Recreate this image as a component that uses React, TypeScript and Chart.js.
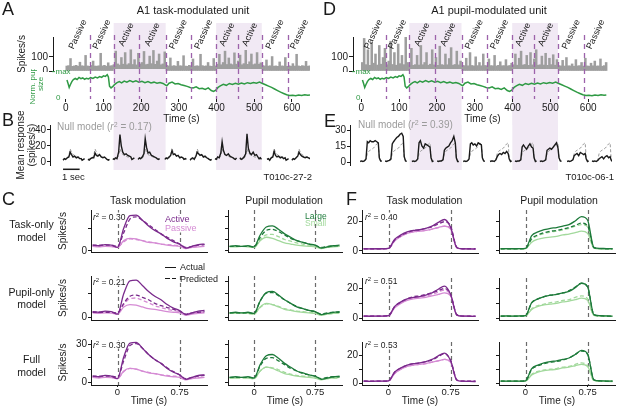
import React, { useEffect, useRef } from "react";
import { Chart, registerables } from "chart.js";
Chart.register(...registerables);

const FONT = "'Liberation Sans', Arial, Helvetica, sans-serif";
Chart.defaults.font.family = FONT;
Chart.defaults.color = "#1a1a1a";

// ---------------- colours ----------------
const INK = "#1a1a1a";
const SHADE = "#f1e9f4";
const EPOCH_DASH = "#9d62ab";
const SPIKE_GRAY = "#9e9e9e";
const PUPIL_GREEN = "#2f9a44";
const PURPLE = "#7a2a8c";
const PINK = "#d58bd4";
const GREEN = "#1d7a3a";
const LGREEN = "#a2d99c";
const NULL_GRAY = "#9b9b9b";

// ---------------- panel A / D : behaviour epochs ----------------
const EPOCH_BOUNDS = [0, 64, 127, 195, 265, 332, 399, 457, 520, 590, 650];
const EPOCH_LABELS = ["Passive", "Passive", "Active", "Active", "Passive", "Passive", "Active", "Active", "Passive", "Passive"];
const TIME_TICKS = [0, 100, 200, 300, 400, 500, 600];
const SPK_TICKS = [0, 100];
const SPK_BIN_S = 5;
const SPK_T0 = 2.5;

// spike rate (spikes/s), 5 s bins
const A_SPK = [
  35, 38, 88, 33, 36, 40, 34, 62, 37, 35, 110, 36, 33, 39, 70, 35, 34, 37, 125, 36, 40, 34, 58, 36, 38,
  45, 140, 50, 42, 95, 48, 130, 44, 52, 150, 46, 80, 43, 125, 50, 60, 138, 45, 48, 105, 52, 145, 47, 70, 120, 44, 50, 135,
  40, 36, 92, 35, 38, 34, 68, 37, 36, 108, 35, 33, 40, 36, 85, 34, 37, 35, 118, 38, 34, 36, 60, 35, 33, 88, 36,
  48, 118, 44, 60, 140, 46, 92, 50, 45, 128, 48, 70, 112, 44, 52, 146, 47, 65, 120, 45, 50, 130, 48, 58,
  38, 36, 78, 35, 37, 102, 34, 36, 33, 64, 36, 35, 95, 33, 37, 34, 52, 35, 118, 36, 33, 38, 35, 68, 34, 36,
];
const D_SPK = [
  60, 230, 45, 150, 40, 200, 55, 120, 42, 180, 48, 95, 160, 44, 70, 210, 46, 130, 41, 190, 52, 110, 45, 240, 60,
  42, 160, 40, 45, 110, 42, 180, 44, 60, 130, 41, 48, 150, 43, 95, 40, 175, 45, 42, 120, 44, 88, 165, 41, 46, 140, 43, 70,
  40, 38, 90, 37, 130, 39, 36, 100, 38, 60, 37, 120, 39, 36, 85, 38, 37, 110, 36, 40, 65, 37, 38, 80, 36, 39, 55,
  44, 120, 41, 90, 140, 42, 46, 110, 40, 130, 43, 85, 150, 41, 44, 105, 42, 125, 40, 90, 45, 115, 41, 80,
  38, 36, 75, 35, 95, 37, 36, 50, 34, 80, 36, 38, 60, 35, 90, 36, 34, 55, 37, 70, 35, 36, 85, 34, 38, 60,
];

// normalised pupil size
const PUPIL_T = [
  3, 6, 9, 12, 16, 20, 25, 30, 35, 40, 45, 50, 55, 60, 66, 72, 78, 84, 90, 95,
  100, 105, 110, 113, 116, 120, 125, 130, 136, 142, 148, 155, 162, 170, 178, 186, 194, 202, 210, 218,
  226, 234, 242, 250, 258, 264, 268, 274, 282, 290, 298, 306, 314, 322, 330, 338, 346, 354, 362, 370,
  378, 386, 392, 398, 404, 410, 418, 426, 434, 442, 450, 458, 466, 474, 482, 490, 498, 506, 514, 522,
  530, 538, 546, 554, 562, 570, 578, 586, 594, 602, 610, 618, 626, 634, 642, 648,
];
const PUPIL_V = [
  0.68, 0.55, 0.4, 0.5, 0.62, 0.7, 0.74, 0.7, 0.78, 0.73, 0.76, 0.71, 0.75, 0.72, 0.77, 0.74, 0.79, 0.76, 0.81, 0.78,
  0.84, 0.82, 0.88, 0.8, 0.45, 0.38, 0.44, 0.52, 0.58, 0.62, 0.57, 0.64, 0.6, 0.66, 0.61, 0.65, 0.6, 0.63, 0.58, 0.62,
  0.57, 0.6, 0.56, 0.59, 0.55, 0.5, 0.46, 0.56, 0.6, 0.53, 0.55, 0.5, 0.47, 0.44, 0.4, 0.38, 0.42, 0.35, 0.37, 0.32,
  0.38, 0.28, 0.25, 0.3, 0.4, 0.46, 0.52, 0.48, 0.55, 0.51, 0.56, 0.52, 0.57, 0.53, 0.58, 0.55, 0.59, 0.56, 0.6, 0.55,
  0.5, 0.45, 0.4, 0.34, 0.28, 0.22, 0.17, 0.12, 0.09, 0.1, 0.08, 0.11, 0.09, 0.12, 0.1, 0.11,
];

// ---------------- panels B / E : per-epoch mean responses ----------------
const T_MINI = [-0.35, -0.27, -0.19, -0.1, 0, 0.08, 0.16, 0.25, 0.35, 0.45, 0.55, 0.65, 0.74, 0.8, 0.88, 0.95];
const MINI_SEC = 44; // axis seconds used per 1 s of trace time
const B_SLOTS = [-7, 59, 125, 192, 263, 330, 396, 462, 534, 600];
const E_SLOTS = [-4, 62, 133, 200, 269, 340, 406, 472, 544, 610];
const B_TICKS = [0, 20, 40];
const E_TICKS = [0, 15, 30];

const B_NULL = [3, 4, 3, 4, 8, 16, 12, 9, 8, 7, 6, 6, 5, 3, 3, 4];
const B_TR1 = [2, 4, 3, 5, 6, 12, 9, 6, 7, 5, 6, 4, 4, 2, 3, 4];
const B_TR2 = [3, 2, 4, 5, 5, 11, 8, 7, 9, 6, 5, 6, 4, 3, 2, 3];
const B_TR3 = [4, 3, 5, 4, 12, 34, 20, 12, 9, 10, 8, 7, 6, 3, 4, 5];
const B_TR4 = [3, 5, 4, 6, 10, 29, 18, 11, 12, 8, 7, 6, 5, 4, 3, 4];
const B_TR5 = [3, 5, 4, 6, 8, 14, 9, 10, 7, 8, 5, 6, 5, 3, 4, 3];
const B_TR6 = [2, 4, 5, 3, 7, 12, 10, 8, 9, 6, 7, 5, 4, 3, 2, 3];
const B_TR7 = [4, 3, 6, 5, 11, 25, 14, 9, 8, 10, 7, 6, 5, 4, 3, 5];
const B_TR8 = [5, 3, 4, 6, 10, 35, 17, 11, 9, 12, 8, 9, 6, 4, 5, 3];
const B_TR9 = [3, 4, 2, 5, 6, 13, 8, 6, 7, 5, 6, 4, 5, 2, 3, 4];
const B_TR10 = [2, 4, 3, 5, 7, 12, 9, 7, 6, 5, 6, 5, 4, 3, 2, 3];
const B_TRACES = [B_TR1, B_TR2, B_TR3, B_TR4, B_TR5, B_TR6, B_TR7, B_TR8, B_TR9, B_TR10];

const E_NULL = [0.5, 0.5, 0.5, 0.5, 2, 8, 10, 11, 12, 13, 15, 17, 18, 4, 1, 0.5];
const E_TR1 = [0.5, 1, 0.5, 1, 3, 19, 18, 20, 19, 19, 20, 19, 18, 4, 1, 1];
const E_TR2 = [1, 0.5, 1, 1.5, 3, 17, 19, 21, 23, 24, 26, 27, 24, 5, 1, 0.5];
const E_TR3 = [0.5, 1, 0.5, 1, 3, 18, 20, 15, 13, 17, 16, 15, 14, 4, 0.5, 1];
const E_TR4 = [1, 0.5, 1, 1, 2, 11, 13, 14, 15, 18, 20, 24, 18, 4, 0.5, 0.5];
const E_TR5 = [0.5, 1, 0.5, 1, 3, 17, 18, 16, 17, 15, 18, 17, 16, 4, 1, 0.5];
const E_TR6 = [0.5, 1, 1, 0.5, 2, 5, 7, 8, 7, 9, 8, 10, 8, 3, 0.5, 1];
const E_TR7 = [1, 0.5, 1, 1, 2, 14, 16, 14, 12, 15, 17, 14, 13, 4, 0.5, 1];
const E_TR8 = [0.5, 1, 0.5, 1, 2, 11, 12, 13, 12, 14, 16, 18, 13, 4, 1, 0.5];
const E_TR9 = [0.5, 1, 0.5, 1, 2, 6, 7, 8, 6, 9, 8, 7, 8, 3, 0.5, 1];
const E_TR10 = [1, 0.5, 1, 0.5, 1.5, 3, 4, 5, 3, 5, 6, 4, 5, 2, 0.5, 0.5];
const E_TRACES = [E_TR1, E_TR2, E_TR3, E_TR4, E_TR5, E_TR6, E_TR7, E_TR8, E_TR9, E_TR10];

// ---------------- panels C / F : PSTHs ----------------
const T_PSTH = [-0.3, -0.225, -0.15, -0.075, 0, 0.075, 0.15, 0.225, 0.3, 0.375, 0.45, 0.525, 0.6, 0.675, 0.75, 0.825, 0.9, 0.975, 1.05];
const STIM_EDGES = [0, 0.75];
const PSTH_X_TICKS = [0, 0.75];

const C_ACT = [5, 4.5, 5.5, 5, 3, 20, 31, 31.5, 27, 22, 18, 15, 11, 8, 6, 2.5, 4, 5.5, 6];
const C_PAS = [4, 3.5, 4, 3.8, 3, 9, 11, 10.5, 9, 7.5, 7, 6, 5, 4.5, 4, 2, 3, 3.5, 4];
const C_ACT_P1 = [5, 5, 5, 5, 4, 16, 28, 30, 27, 23, 19, 15, 12, 9, 6, 3, 4, 5, 5.5];
const C_PAS_P1 = [4, 4, 4, 4, 3.5, 8, 10.5, 10, 9, 8, 7, 6, 5.5, 5, 4.5, 2.5, 3.5, 4, 4];
const C_ACT_P2 = [4.5, 4.5, 4.5, 4.5, 4, 12, 18, 19, 17, 15, 12, 10, 8.5, 7, 5.5, 3, 4, 4.5, 5];
const C_PAS_P2 = [4.5, 4.5, 4.5, 4.5, 4, 11, 16, 16.5, 14.5, 12.5, 10, 8.5, 7, 6, 5, 3, 4, 4.5, 4.5];
const C_ACT_P3 = [5, 5, 5, 5, 4, 17, 29, 30.5, 27, 22, 18, 15, 11.5, 8.5, 6, 3, 4, 5, 5.5];
const C_PAS_P3 = [4, 4, 4, 4, 3.5, 8.5, 11, 10.5, 9, 8, 7, 6, 5.5, 5, 4.5, 2.5, 3.5, 4, 4];

const C_LRG = [4, 4.5, 4, 4.5, 3.5, 14, 21, 22, 19, 15, 12, 9, 7.5, 6, 5, 2.5, 3.5, 4.5, 5];
const C_SML = [3.5, 3.5, 4, 3.5, 3, 9, 12, 11, 9, 7, 6, 5, 4.5, 4, 3.5, 2, 3, 3.5, 4];
const C_LRG_P1 = [4, 4, 4, 4, 3.5, 12, 18, 19, 17, 14, 11, 9, 7.5, 6, 5, 3, 4, 4.5, 4.5];
const C_SML_P1 = [4, 4, 4, 4, 3.5, 10, 14, 14.5, 12.5, 10, 8.5, 7, 6, 5, 4.5, 2.5, 3.5, 4, 4];
const C_LRG_P2 = [4, 4, 4, 4, 3.5, 14, 20.5, 21, 18.5, 15, 12, 9.5, 7.5, 6, 5, 3, 4, 4.5, 4.5];
const C_SML_P2 = [3.5, 3.5, 3.5, 3.5, 3, 8.5, 11.5, 11, 9.5, 7.5, 6.5, 5.5, 5, 4.5, 4, 2.5, 3, 3.5, 3.5];
const C_LRG_P3 = [4, 4, 4, 4, 3.5, 13, 19, 19.5, 17, 14, 11, 9, 7, 6, 5, 3, 4, 4.5, 4.5];
const C_SML_P3 = [3.5, 3.5, 3.5, 3.5, 3, 9, 12, 11.5, 10, 8, 6.5, 5.5, 5, 4.5, 4, 2.5, 3, 3.5, 3.5];

const F_ACT = [1.5, 1.4, 1.5, 1.5, 1.8, 8, 11, 13, 14, 14.5, 15.5, 17, 19.5, 21.5, 16, 2.2, 1.5, 1.4, 1.3];
const F_PAS = [1.5, 1.4, 1.5, 1.5, 1.7, 7, 10, 12, 13, 13.5, 14, 15, 16, 17, 15, 2, 1.5, 1.4, 1.3];
const F_ACT_P1 = [1.5, 1.5, 1.5, 1.5, 1.7, 7.5, 10.5, 12.5, 14, 14.5, 15.5, 16.5, 18.5, 20, 17, 2.5, 1.5, 1.5, 1.5];
const F_PAS_P1 = [1.5, 1.5, 1.5, 1.5, 1.7, 7, 10, 12, 13, 13.5, 14, 15, 16, 17, 15.5, 2.3, 1.5, 1.5, 1.5];
const F_ACT_P2 = [1.5, 1.5, 1.5, 1.5, 1.7, 8, 11, 13, 14.5, 15, 16, 17, 18.5, 20, 16, 2.5, 1.5, 1.5, 1.5];
const F_PAS_P2 = [1.5, 1.5, 1.5, 1.5, 1.7, 7.5, 10.5, 12.5, 14, 14.5, 15, 16, 17.5, 19, 15.5, 2.3, 1.5, 1.5, 1.5];
const F_ACT_P3 = [1.5, 1.5, 1.5, 1.5, 1.7, 8, 11, 13, 14, 14.5, 15.5, 16.5, 19, 21, 16.5, 2.5, 1.5, 1.5, 1.5];
const F_PAS_P3 = [1.5, 1.5, 1.5, 1.5, 1.7, 7, 10, 12, 13, 13.5, 14, 15, 16, 17, 15, 2.2, 1.5, 1.5, 1.5];

const F_LRG = [1.5, 1.6, 1.5, 1.6, 1.8, 10.5, 13, 14.5, 15.5, 16, 17, 18, 20.5, 23.5, 21, 2.5, 1.8, 1.6, 1.5];
const F_SML = [1.5, 1.4, 1.5, 1.4, 1.6, 6, 8, 9, 9.5, 10, 11, 11.5, 12.5, 13.5, 12, 2, 1.5, 1.4, 1.3];
const F_LRG_P1 = [1.5, 1.5, 1.5, 1.5, 1.7, 8.5, 11, 12.5, 13.5, 14, 15, 16, 17.5, 19, 17, 2.3, 1.6, 1.5, 1.5];
const F_SML_P1 = [1.5, 1.5, 1.5, 1.5, 1.7, 8, 10.5, 12, 13, 13.5, 14.5, 15.5, 17, 18, 16.5, 2.2, 1.5, 1.5, 1.5];
const F_LRG_P2 = [1.5, 1.5, 1.5, 1.5, 1.8, 10.5, 13, 14.5, 15.5, 16, 17, 18.5, 21, 23.5, 21, 2.5, 1.7, 1.5, 1.5];
const F_SML_P2 = [1.5, 1.5, 1.5, 1.5, 1.7, 6.5, 8.5, 9.5, 10.5, 11, 12, 12.5, 14, 15, 13, 2.1, 1.5, 1.5, 1.5];
const F_LRG_P3 = [1.5, 1.5, 1.5, 1.5, 1.8, 10, 12.5, 14, 15, 15.5, 16.5, 18, 20.5, 23, 20.5, 2.5, 1.7, 1.5, 1.5];
const F_SML_P3 = [1.5, 1.5, 1.5, 1.5, 1.7, 6.5, 8.5, 9.5, 10, 10.5, 11.5, 12, 13.5, 14.5, 12.5, 2, 1.5, 1.5, 1.5];

const C_TICKS = [0, 10, 20, 30];
const C_LABELLED = [0, 30];
const F_TICKS = [0, 10, 20];
const F_LABELLED = [0, 20];

// ---------------- helpers ----------------
function activeRanges(): number[][] {
  const out: number[][] = [];
  for (let i = 0; i < EPOCH_LABELS.length; i++) {
    if (EPOCH_LABELS[i] !== "Active") continue;
    const last = out[out.length - 1];
    if (last && last[1] === EPOCH_BOUNDS[i]) last[1] = EPOCH_BOUNDS[i + 1];
    else out.push([EPOCH_BOUNDS[i], EPOCH_BOUNDS[i + 1]]);
  }
  return out;
}

const baseOpts = (pad: any) => ({
  responsive: false,
  animation: false,
  events: [],
  layout: { autoPadding: false, padding: pad },
  plugins: { legend: { display: false }, tooltip: { enabled: false }, title: { display: false } },
});

function epochPlugin(o: any) {
  return {
    id: "epochs",
    beforeDraw(chart: any) {
      const { ctx } = chart;
      const x = chart.scales.x;
      const bottom = o.shadeTo == null ? chart.height : o.shadeTo;
      ctx.save();
      ctx.fillStyle = SHADE;
      for (const [a, b] of activeRanges()) {
        const x1 = x.getPixelForValue(a);
        const x2 = x.getPixelForValue(b);
        ctx.fillRect(x1, o.shadeFrom, x2 - x1, bottom - o.shadeFrom);
      }
      ctx.restore();
    },
    afterDatasetsDraw(chart: any) {
      if (o.dashFrom == null) return;
      const { ctx } = chart;
      const x = chart.scales.x;
      const to = o.dashTo == null ? chart.chartArea.bottom : o.dashTo;
      ctx.save();
      ctx.strokeStyle = EPOCH_DASH;
      ctx.lineWidth = 1.3;
      ctx.setLineDash([5, 4]);
      for (let i = 1; i < EPOCH_BOUNDS.length - 1; i++) {
        const px = Math.round(x.getPixelForValue(EPOCH_BOUNDS[i])) + 0.5;
        ctx.beginPath();
        ctx.moveTo(px, o.dashFrom);
        ctx.lineTo(px, to);
        ctx.stroke();
      }
      ctx.restore();
    },
    afterDraw(chart: any) {
      const { ctx } = chart;
      const x = chart.scales.x;
      ctx.save();
      if (o.labels) {
        ctx.fillStyle = INK;
        ctx.font = `9px ${FONT}`;
        ctx.textAlign = "center";
        ctx.textBaseline = "middle";
        for (let i = 0; i < EPOCH_LABELS.length; i++) {
          const cx = x.getPixelForValue((EPOCH_BOUNDS[i] + EPOCH_BOUNDS[i + 1]) / 2);
          ctx.save();
          ctx.translate(cx, o.labelY);
          ctx.rotate((-65 * Math.PI) / 180);
          ctx.fillText(EPOCH_LABELS[i], 0, 0);
          ctx.restore();
        }
      }
      if (o.scaleBar) {
        const x1 = x.getPixelForValue(o.scaleBar.start);
        const x2 = x.getPixelForValue(o.scaleBar.start + MINI_SEC);
        ctx.strokeStyle = INK;
        ctx.lineWidth = 1.5;
        ctx.beginPath();
        ctx.moveTo(x1, o.scaleBar.y);
        ctx.lineTo(x2, o.scaleBar.y);
        ctx.stroke();
      }
      ctx.restore();
    },
  };
}

function spikeConfig(values: number[], xMin: number, xMax: number, showTitle: boolean, padRight: number) {
  const data = values.map((v, i) => ({ x: SPK_T0 + i * SPK_BIN_S, y: v }));
  return {
    type: "bar",
    data: {
      datasets: [{ data, backgroundColor: SPIKE_GRAY, borderWidth: 0, barPercentage: 1, categoryPercentage: 1 }],
    },
    options: {
      ...baseOpts({ top: 37, right: padRight, bottom: 1, left: 0 }),
      scales: {
        x: { type: "linear", min: xMin, max: xMax, offset: false, display: false },
        y: {
          min: 0,
          max: 240,
          afterBuildTicks: (s: any) => { s.ticks = SPK_TICKS.map((v) => ({ value: v })); },
          afterFit: (s: any) => { s.width = 53; s.paddingTop = 0; s.paddingBottom = 0; },
          grid: { drawOnChartArea: false, drawTicks: true, tickLength: 4, color: INK },
          border: { display: true, color: INK, width: 1 },
          ticks: { font: { size: 10 }, padding: 1, color: INK },
          title: { display: showTitle, text: "Spikes/s", font: { size: 10 }, padding: { top: 16, bottom: 0 }, color: INK },
        },
      },
    },
    plugins: [epochPlugin({ shadeFrom: 23, shadeTo: null, dashFrom: 35, dashTo: 69, labels: true, labelY: 34.5 })],
  };
}

function pupilConfig(xMin: number, xMax: number, padRight: number, showTitle: boolean) {
  const data = PUPIL_T.map((t, i) => ({ x: t, y: PUPIL_V[i] }));
  const deco = {
    id: "pupilDeco",
    afterDraw(chart: any) {
      const { ctx, chartArea: a } = chart;
      const y = chart.scales.y;
      const y1 = y.getPixelForValue(1);
      const y0 = y.getPixelForValue(0);
      ctx.save();
      ctx.fillStyle = PUPIL_GREEN;
      ctx.strokeStyle = PUPIL_GREEN;
      ctx.lineWidth = 1;
      ctx.font = `8px ${FONT}`;
      ctx.textBaseline = "middle";
      ctx.beginPath();
      ctx.moveTo(a.left - 1, y1);
      ctx.lineTo(a.left + 2, y1);
      ctx.stroke();
      ctx.fillText("max", a.left + 2.5, y1);
      ctx.fillText("0", a.left + 3, y0);
      if (showTitle) {
        ctx.translate(33, (a.top + a.bottom) / 2);
        ctx.rotate(-Math.PI / 2);
        ctx.textAlign = "center";
        ctx.fillText("Norm. pupil", 0, 0);
        ctx.fillText("size", 0, 8);
      }
      ctx.restore();
    },
  };
  return {
    type: "line",
    data: { datasets: [{ data, borderColor: PUPIL_GREEN, borderWidth: 1.5, pointRadius: 0, tension: 0 }] },
    options: {
      ...baseOpts({ top: 0, right: padRight, bottom: 0, left: 0 }),
      scales: {
        x: {
          type: "linear",
          min: xMin,
          max: xMax,
          afterBuildTicks: (s: any) => { s.ticks = TIME_TICKS.map((v) => ({ value: v })); },
          afterFit: (s: any) => { s.height = 26; s.paddingLeft = 0; s.paddingRight = 0; },
          grid: { drawOnChartArea: false, drawTicks: true, tickLength: 3, color: INK },
          border: { display: false },
          ticks: { font: { size: 10 }, padding: 0, maxRotation: 0, autoSkip: false, color: INK },
          title: { display: true, text: "Time (s)", font: { size: 10 }, padding: 0, color: INK },
        },
        y: {
          min: -0.04,
          max: 1.1,
          afterFit: (s: any) => { s.width = 53; s.paddingTop = 0; s.paddingBottom = 0; },
          grid: { display: false },
          border: { display: false },
          ticks: { display: false },
        },
      },
    },
    plugins: [deco, epochPlugin({ shadeFrom: 0, shadeTo: null, dashFrom: 0, dashTo: null, labels: false })],
  };
}

// B/E canvases start 15 px above their plot (page y 110); plot from 125 to 165
const TRACE_PAD_TOP = 15;

function traceConfig(traces: number[][], nullTrace: number[], slots: number[], xMin: number, xMax: number,
  yMin: number, yMax: number, yTicks: number[], padRight: number, yTitle: string[] | null, scaleBar: any) {
  const act: any[] = [];
  const nul: any[] = [];
  slots.forEach((s, i) => {
    T_MINI.forEach((t, j) => {
      const x = s + (t - T_MINI[0]) * MINI_SEC;
      act.push({ x, y: traces[i][j] });
      nul.push({ x, y: nullTrace[j] });
    });
    const gap = s + (T_MINI[T_MINI.length - 1] - T_MINI[0]) * MINI_SEC + 1;
    act.push({ x: gap, y: null });
    nul.push({ x: gap, y: null });
  });
  return {
    type: "line",
    data: {
      datasets: [
        { data: act, borderColor: INK, borderWidth: 1.4, pointRadius: 0, tension: 0 },
        { data: nul, borderColor: NULL_GRAY, borderWidth: 1, borderDash: [3, 2], pointRadius: 0, tension: 0 },
      ],
    },
    options: {
      ...baseOpts({ top: TRACE_PAD_TOP, right: padRight, bottom: 20, left: 0 }),
      scales: {
        x: { type: "linear", min: xMin, max: xMax, display: false },
        y: {
          min: yMin,
          max: yMax,
          afterBuildTicks: (s: any) => { s.ticks = yTicks.map((v) => ({ value: v })); },
          afterFit: (s: any) => { s.width = 50; s.paddingTop = 0; s.paddingBottom = 0; },
          grid: { drawOnChartArea: false, drawTicks: true, tickLength: 3, color: INK },
          border: { display: true, color: INK, width: 1 },
          ticks: { font: { size: 10 }, padding: 1, color: INK },
          title: {
            display: !!yTitle,
            text: yTitle || "",
            font: { size: 10, lineHeight: 1.1 },
            padding: { top: 16, bottom: 0 },
            color: INK,
          },
        },
      },
    },
    plugins: [epochPlugin({ shadeFrom: TRACE_PAD_TOP, shadeTo: TRACE_PAD_TOP + 45, dashFrom: null, labels: false, scaleBar })],
  };
}

const stimLines = {
  id: "stimLines",
  beforeDatasetsDraw(chart: any) {
    const { ctx, chartArea: a } = chart;
    const x = chart.scales.x;
    ctx.save();
    ctx.strokeStyle = "#6b6b6b";
    ctx.lineWidth = 1.2;
    ctx.setLineDash([4, 3]);
    for (const t of STIM_EDGES) {
      const px = Math.round(x.getPixelForValue(t)) + 0.5;
      ctx.beginPath();
      ctx.moveTo(px, a.top);
      ctx.lineTo(px, a.bottom);
      ctx.stroke();
    }
    ctx.restore();
  },
};

const PSTH_X_MIN = -0.32;
const PSTH_X_MAX = 1.08;
const PAD_T = 4;
const PAD_R = 3;

function psthConfig(p: any) {
  const hX = p.bottomRow ? 406 - p.bottom : 2;
  return {
    type: "line",
    data: {
      datasets: p.series.map((s: any) => ({
        data: T_PSTH.map((t, i) => ({ x: t, y: s.data[i] })),
        borderColor: s.color,
        borderWidth: 1.3,
        borderDash: s.dashed ? [4, 2.5] : [],
        pointRadius: 0,
        cubicInterpolationMode: "monotone",
        fill: false,
      })),
    },
    options: {
      ...baseOpts({ top: PAD_T, right: PAD_R, bottom: 0, left: 0 }),
      scales: {
        x: {
          type: "linear",
          min: PSTH_X_MIN,
          max: PSTH_X_MAX,
          afterBuildTicks: (s: any) => { s.ticks = PSTH_X_TICKS.map((v) => ({ value: v })); },
          afterFit: (s: any) => { s.height = hX; s.paddingLeft = 0; s.paddingRight = 0; },
          grid: { display: p.bottomRow, drawOnChartArea: false, drawTicks: true, tickLength: 2, color: INK },
          border: { display: true, color: INK, width: 1 },
          ticks: {
            display: p.bottomRow,
            font: { size: 9.5 },
            padding: 0,
            maxRotation: 0,
            autoSkip: false,
            color: INK,
            callback: (v: number) => String(v),
          },
          title: { display: p.bottomRow, text: "Time (s)", font: { size: 10, lineHeight: 1 }, padding: 0, color: INK },
        },
        y: {
          min: p.yMin,
          max: p.yMax,
          afterBuildTicks: (s: any) => { s.ticks = p.yTicks.map((v: number) => ({ value: v })); },
          afterFit: (s: any) => { s.width = p.wY; s.paddingTop = 0; s.paddingBottom = 0; },
          grid: { drawOnChartArea: false, drawTicks: true, tickLength: 3, color: INK },
          border: { display: true, color: INK, width: 1 },
          ticks: {
            display: p.showLabels,
            font: { size: 10 },
            padding: 1,
            color: INK,
            callback: (v: number) => (p.labelled.includes(v) ? String(v) : ""),
          },
          title: { display: p.yTitle, text: "Spikes/s", font: { size: 10 }, padding: { top: 6, bottom: 0 }, color: INK },
        },
      },
    },
    plugins: [stimLines],
  };
}

// ---------------- components ----------------
function ChartBox({ left, top, width, height, make }: any) {
  const ref = useRef<HTMLCanvasElement>(null);
  useEffect(() => {
    const chart = new Chart(ref.current as HTMLCanvasElement, make());
    return () => chart.destroy();
  }, []);
  return <canvas ref={ref} width={width} height={height} style={{ position: "absolute", left, top, width, height }} />;
}

function Txt({ x, y, size = 10, color = INK, align = "left", bg, children }: any) {
  const tx = align === "left" ? "0" : align === "center" ? "-50%" : "-100%";
  return (
    <div
      style={{
        position: "absolute",
        left: x,
        top: y,
        transform: `translate(${tx},-50%)`,
        fontSize: size,
        lineHeight: 1,
        color,
        whiteSpace: "nowrap",
        background: bg,
      }}
    >
      {children}
    </div>
  );
}

const Sq = () => <span style={{ fontSize: "0.7em", position: "relative", top: "-0.45em" }}>2</span>;

function R2({ x, y, v }: any) {
  return (
    <Txt x={x} y={y} size={8.5} bg="#fff">
      <i>r</i>
      <Sq /> = {v}
    </Txt>
  );
}

const C_ROWS = [
  { top: 210, bottom: 252, yMin: -1, yMax: 36 },
  { top: 276, bottom: 320, yMin: -2, yMax: 35 },
  { top: 340, bottom: 385, yMin: -2, yMax: 33.4 },
];
const F_ROWS = [
  { top: 210, bottom: 253, yMin: -1.4, yMax: 28 },
  { top: 278, bottom: 320, yMin: -1.1, yMax: 27 },
  { top: 342, bottom: 385, yMin: -1.2, yMax: 29.4 },
];
const C_ACT_PREDS = [C_ACT_P1, C_ACT_P2, C_ACT_P3];
const C_PAS_PREDS = [C_PAS_P1, C_PAS_P2, C_PAS_P3];
const C_LRG_PREDS = [C_LRG_P1, C_LRG_P2, C_LRG_P3];
const C_SML_PREDS = [C_SML_P1, C_SML_P2, C_SML_P3];
const F_ACT_PREDS = [F_ACT_P1, F_ACT_P2, F_ACT_P3];
const F_PAS_PREDS = [F_PAS_P1, F_PAS_P2, F_PAS_P3];
const F_LRG_PREDS = [F_LRG_P1, F_LRG_P2, F_LRG_P3];
const F_SML_PREDS = [F_SML_P1, F_SML_P2, F_SML_P3];

function PsthPanel(p: any) {
  const h = PAD_T + (p.bottom - p.top) + (p.bottomRow ? 406 - p.bottom : 2);
  return (
    <ChartBox
      left={p.left - p.wY}
      top={p.top - PAD_T}
      width={p.wY + p.width + PAD_R}
      height={h}
      make={() => psthConfig(p)}
    />
  );
}

function panelsFor(col: any) {
  return col.rows.map((r: any, i: number) => (
    <PsthPanel
      key={col.key + i}
      left={col.left}
      width={col.width}
      wY={col.wY}
      top={r.top}
      bottom={r.bottom}
      yMin={r.yMin}
      yMax={r.yMax}
      yTicks={col.ticks}
      labelled={col.labelled}
      showLabels={col.showLabels}
      yTitle={col.yTitle}
      bottomRow={i === 2}
      series={[
        { data: col.act, color: col.dark, dashed: false },
        { data: col.actPreds[i], color: col.dark, dashed: true },
        { data: col.pas, color: col.light, dashed: false },
        { data: col.pasPreds[i], color: col.light, dashed: true },
      ]}
    />
  ));
}

const COLUMNS = [
  { key: "ct", left: 91, width: 116, wY: 40, rows: C_ROWS, ticks: C_TICKS, labelled: C_LABELLED, showLabels: true, yTitle: true,
    act: C_ACT, pas: C_PAS, actPreds: C_ACT_PREDS, pasPreds: C_PAS_PREDS, dark: PURPLE, light: PINK },
  { key: "cp", left: 228, width: 114, wY: 12, rows: C_ROWS, ticks: C_TICKS, labelled: [], showLabels: false, yTitle: false,
    act: C_LRG, pas: C_SML, actPreds: C_LRG_PREDS, pasPreds: C_SML_PREDS, dark: GREEN, light: LGREEN },
  { key: "ft", left: 362, width: 116, wY: 20, rows: F_ROWS, ticks: F_TICKS, labelled: F_LABELLED, showLabels: true, yTitle: false,
    act: F_ACT, pas: F_PAS, actPreds: F_ACT_PREDS, pasPreds: F_PAS_PREDS, dark: PURPLE, light: PINK },
  { key: "fp", left: 499, width: 116, wY: 12, rows: F_ROWS, ticks: F_TICKS, labelled: [], showLabels: false, yTitle: false,
    act: F_LRG, pas: F_SML, actPreds: F_LRG_PREDS, pasPreds: F_SML_PREDS, dark: GREEN, light: LGREEN },
];

export default function App() {
  return (
    <div
      style={{
        position: "absolute",
        left: 0,
        top: 0,
        width: 617,
        height: 406,
        background: "#fff",
        overflow: "hidden",
        fontFamily: FONT,
        color: INK,
      }}
    >
      {/* A / D top: spikes + pupil */}
      <ChartBox left={0} top={0} width={312} height={72} make={() => spikeConfig(A_SPK, -34, 648, true, 2)} />
      <ChartBox left={0} top={69} width={312} height={56} make={() => pupilConfig(-34, 648, 2, true)} />
      <ChartBox left={300} top={0} width={317} height={72} make={() => spikeConfig(D_SPK, -22, 663, false, 5)} />
      <ChartBox left={300} top={69} width={317} height={56} make={() => pupilConfig(-22, 663, 5, false)} />

      {/* B / E */}
      <ChartBox
        left={0}
        top={125 - TRACE_PAD_TOP}
        width={312}
        height={60 + TRACE_PAD_TOP}
        make={() => traceConfig(B_TRACES, B_NULL, B_SLOTS, -41.6, 648, -4, 46, B_TICKS, 2, ["Mean response", "(spikes/s)"], { start: B_SLOTS[0], y: 44.3 + TRACE_PAD_TOP })}
      />
      <ChartBox
        left={300}
        top={125 - TRACE_PAD_TOP}
        width={317}
        height={60 + TRACE_PAD_TOP}
        make={() => traceConfig(E_TRACES, E_NULL, E_SLOTS, -31, 663, -2.8, 34.7, E_TICKS, 5, null, null)}
      />

      {/* C / F */}
      {COLUMNS.map((c) => panelsFor(c))}

      {/* legend line samples */}
      <div style={{ position: "absolute", left: 165, top: 266.5, width: 11, borderTop: `1.3px solid ${INK}` }} />
      <div style={{ position: "absolute", left: 165, top: 277.5, width: 4.5, borderTop: `1.3px solid ${INK}` }} />
      <div style={{ position: "absolute", left: 171.5, top: 277.5, width: 4.5, borderTop: `1.3px solid ${INK}` }} />

      {/* texts */}
      <Txt x={2} y={9} size={18}>A</Txt>
      <Txt x={193} y={10} size={11} align="center">A1 task-modulated unit</Txt>
      <Txt x={323} y={9} size={18}>D</Txt>
      <Txt x={489} y={10} size={11} align="center">A1 pupil-modulated unit</Txt>

      <Txt x={2} y={120} size={18}>B</Txt>
      <Txt x={57} y={127} size={10} color={NULL_GRAY}>
        Null model (<i>r</i>
        <Sq /> = 0.17)
      </Txt>
      <Txt x={62} y={176.5} size={9.5}>1 sec</Txt>
      <Txt x={312} y={176.5} size={9.5} align="right">T010c-27-2</Txt>

      <Txt x={324} y={121} size={18}>E</Txt>
      <Txt x={358} y={125} size={10} color={NULL_GRAY}>
        Null model (<i>r</i>
        <Sq /> = 0.39)
      </Txt>
      <Txt x={614} y={176.5} size={9.5} align="right">T010c-06-1</Txt>

      <Txt x={2} y={198.5} size={18}>C</Txt>
      <Txt x={148} y={200} size={10.5} align="center">Task modulation</Txt>
      <Txt x={284} y={200} size={10.5} align="center">Pupil modulation</Txt>
      <Txt x={346} y={198.5} size={18}>F</Txt>
      <Txt x={424.5} y={200} size={10.5} align="center">Task modulation</Txt>
      <Txt x={559} y={200} size={10.5} align="center">Pupil modulation</Txt>

      <Txt x={31.5} y={224} size={10.5} align="center">Task-only</Txt>
      <Txt x={31.5} y={237} size={10.5} align="center">model</Txt>
      <Txt x={31.5} y={292} size={10.5} align="center">Pupil-only</Txt>
      <Txt x={31.5} y={304} size={10.5} align="center">model</Txt>
      <Txt x={31.5} y={359} size={10.5} align="center">Full</Txt>
      <Txt x={31.5} y={372} size={10.5} align="center">model</Txt>

      <Txt x={165} y={219} size={9} color={PURPLE} bg="#fff">Active</Txt>
      <Txt x={165} y={228} size={9} color={PINK} bg="#fff">Passive</Txt>
      <Txt x={305} y={215.5} size={8.5} color={GREEN}>Large</Txt>
      <Txt x={305} y={223} size={8.5} color={LGREEN}>Small</Txt>
      <Txt x={180} y={267} size={9}>Actual</Txt>
      <Txt x={180} y={278.5} size={9}>Predicted</Txt>

      <R2 x={93} y={216.5} v="0.30" />
      <R2 x={93} y={281.5} v="0.21" />
      <R2 x={93} y={344.5} v="0.30" />
      <R2 x={365} y={216.5} v="0.40" />
      <R2 x={365} y={281} v="0.51" />
      <R2 x={365} y={345} v="0.53" />
    </div>
  );
}
